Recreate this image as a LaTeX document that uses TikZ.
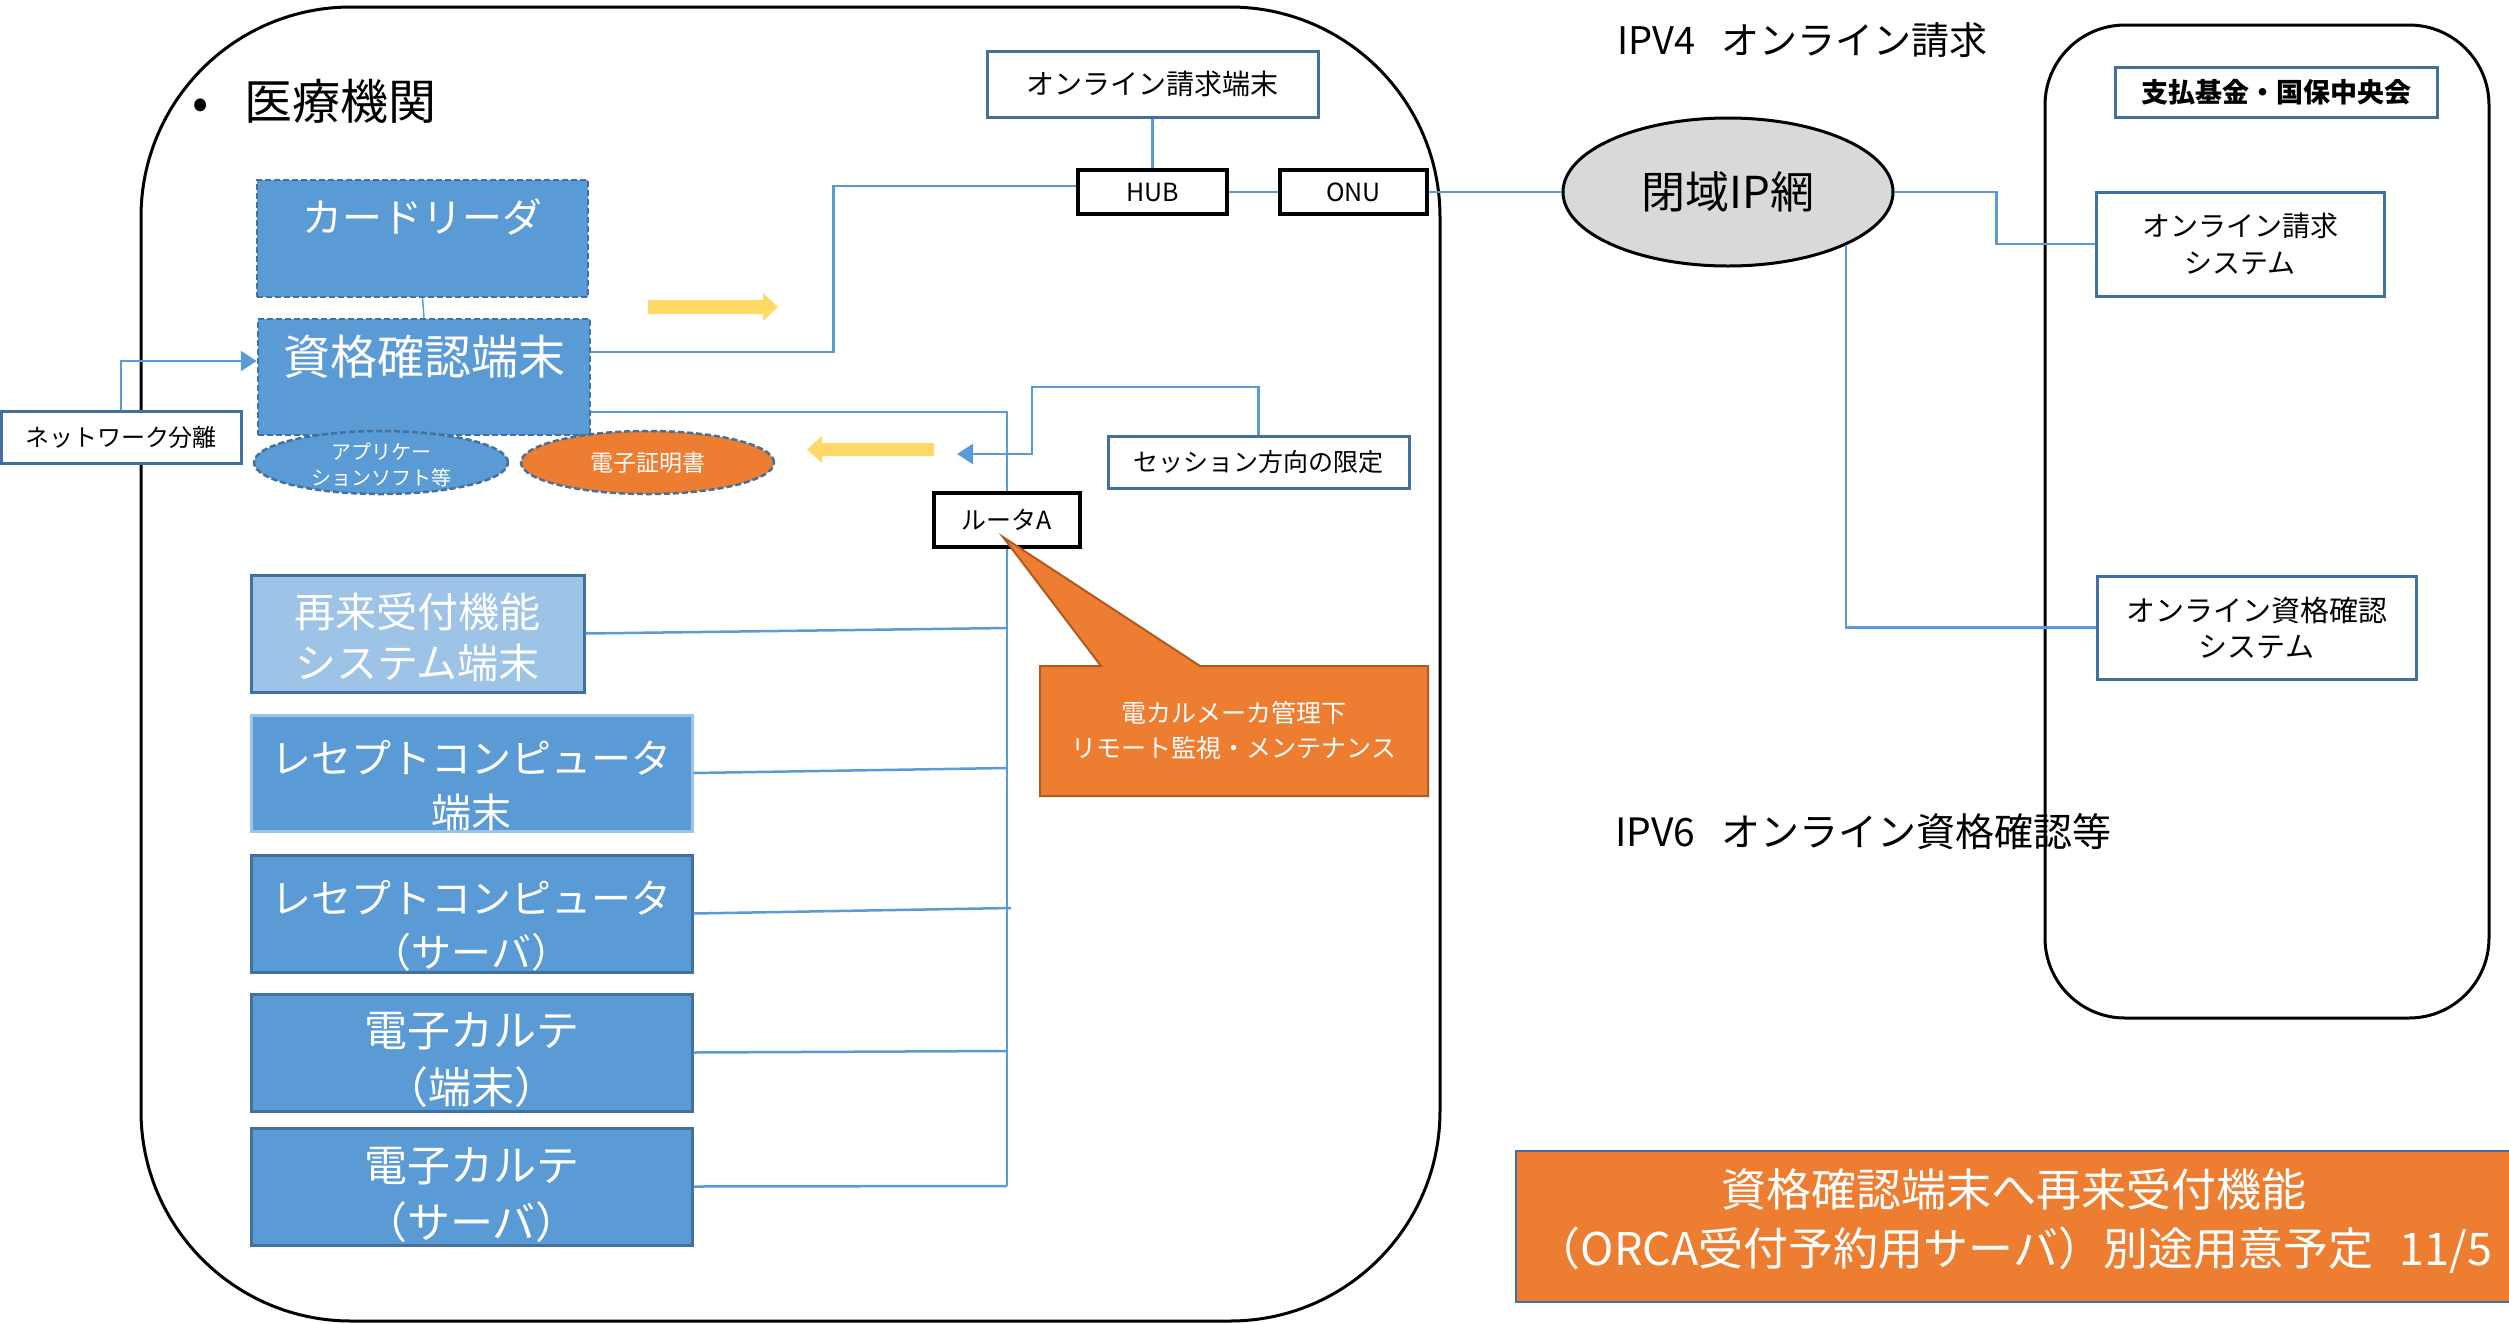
\documentclass[tikz,border=0pt]{standalone}
\usepackage{fontspec}
\setmainfont{Noto Sans CJK JP}
\usetikzlibrary{shapes.geometric,arrows.meta}
\definecolor{boxblue}{HTML}{5B9BD5}
\definecolor{edgeblue}{HTML}{41719C}
\definecolor{lightblue}{HTML}{9DC3E6}
\definecolor{orng}{HTML}{ED7D31}
\definecolor{orngdark}{HTML}{AE5A21}
\definecolor{yel}{HTML}{FFD966}
\definecolor{ipgray}{HTML}{D9D9D9}
\newcommand\fsz[2]{\fontsize{#1}{#2}\selectfont}
\begin{document}
\begin{tikzpicture}[x=1pt,y=-1pt,
  conn/.style={draw=boxblue,line width=2.5pt},
  arr/.style={conn,-{Triangle[length=16pt,width=20pt]}},
  wbox/.style={draw=edgeblue,line width=3pt,fill=white,inner sep=0pt,align=center},
  kbox/.style={draw=black,line width=3.5pt,fill=white,inner sep=0pt,align=center},
  bbox/.style={draw=edgeblue,line width=3pt,fill=boxblue,text=white,inner sep=0pt,align=center},
  dbox/.style={bbox,line width=2.5pt,dash pattern=on 6pt off 3pt},
  lbl/.style={inner sep=0pt,align=center},
  wlbl/.style={lbl,text=white},
  container/.style={draw=black,line width=3pt,inner sep=0pt}
]
\useasboundingbox (0,0) rectangle (2509,1323);

% containers
\node[container,rounded corners=210pt,minimum width=1299pt,minimum height=1314pt] (hosp) at (790.5,664) {};
\node[container,rounded corners=80pt,minimum width=444pt,minimum height=993pt] (fundarea) at (2267,521.5) {};

% titles
\node[lbl,anchor=west,font=\fsz{48}{52}] (hosptitle) at (192,101) {•\hspace{36pt}医療機関};
\node[lbl,anchor=west,font=\fsz{38}{42}] (ipv4) at (1617,40) {IPV4\hspace{26pt}オンライン請求};
\node[lbl,anchor=west,font=\fsz{39}{42}] (ipv6) at (1615,832) {IPV6\hspace{26pt}オンライン資格確認等};

% network side
\node[wbox,minimum width=331pt,minimum height=66pt,font=\fsz{28}{32}] (term) at (1152.5,84) {オンライン請求端末};
\node[kbox,minimum width=149pt,minimum height=44pt,font=\fsz{25}{28}] (hub) at (1152.5,192) {HUB};
\node[kbox,minimum width=147pt,minimum height=44pt,font=\fsz{25}{28}] (onu) at (1353.5,192) {ONU};
\node[ellipse,draw=black,line width=3pt,fill=ipgray,minimum width=330pt,minimum height=148pt,inner sep=0pt,font=\fsz{44}{48}] (ip) at (1728,192) {閉域IP網};
\node[wbox,minimum width=322pt,minimum height=50pt,font=\fsz{27}{30}\bfseries] (fund) at (2276,92) {支払基金・国保中央会};
\node[wbox,minimum width=288pt,minimum height=104pt,font=\fsz{28}{37}] (claim) at (2240,244) {オンライン請求\\システム};
\node[wbox,minimum width=319pt,minimum height=103pt,font=\fsz{29}{36}] (qual) at (2256.5,627.5) {オンライン資格確認\\システム};

% hospital side
\node[dbox,minimum width=331pt,minimum height=117pt] (card) at (422.5,238.5) {};
\node[wlbl,font=\fsz{40}{44}] (cardtxt) at (422.5,217) {カードリーダ};
\node[dbox,minimum width=332pt,minimum height=116pt] (shikaku) at (424,377) {};
\node[wlbl,font=\fsz{47}{50}] (shikakutxt) at (424,357) {資格確認端末};
\node[wbox,minimum width=240pt,minimum height=52pt,font=\fsz{24}{28}] (net) at (121,437) {ネットワーク分離};
\node[ellipse,draw=edgeblue,line width=2.5pt,dash pattern=on 6pt off 3pt,fill=boxblue,text=white,minimum width=254pt,minimum height=63pt,inner sep=0pt] (app) at (381,462.5) {};
\node[wlbl,font=\fsz{20}{26}] (apptxt) at (381,465) {アプリケー\\ションソフト等};
\node[ellipse,draw=edgeblue,line width=2.5pt,dash pattern=on 6pt off 3pt,fill=orng,text=white,minimum width=253pt,minimum height=63pt,inner sep=0pt,font=\fsz{23}{26}] (cert) at (647.5,462.5) {電子証明書};
\node[kbox,minimum width=146pt,minimum height=54pt,font=\fsz{25}{28}] (router) at (1007,520) {ルータA};
\node[wbox,minimum width=301pt,minimum height=52pt,font=\fsz{25}{28}] (sess) at (1258.5,462) {セッション方向の限定};

\node[bbox,fill=lightblue,minimum width=333pt,minimum height=117pt] (sairai) at (417.5,633.5) {};
\node[wlbl,font=\fsz{41}{51}] (sairaitxt) at (417.5,637) {再来受付機能\\システム端末};
\node[bbox,draw=lightblue,minimum width=441pt,minimum height=116pt] (rece1) at (471.5,773) {};
\node[wlbl,font=\fsz{40}{54}] (rece1txt) at (471.5,785) {レセプトコンピュータ\\端末};
\node[bbox,minimum width=441pt,minimum height=117pt] (rece2) at (471.5,913.5) {};
\node[wlbl,font=\fsz{40}{54}] (rece2txt) at (471.5,926) {レセプトコンピュータ\\（サーバ）};
\node[bbox,minimum width=441pt,minimum height=117pt] (kar1) at (471.5,1052.5) {};
\node[wlbl,font=\fsz{43}{57}] (kar1txt) at (471.5,1060) {電子カルテ\\（端末）};
\node[bbox,minimum width=441pt,minimum height=117pt] (kar2) at (471.5,1186.5) {};
\node[wlbl,font=\fsz{43}{57}] (kar2txt) at (471.5,1195) {電子カルテ\\（サーバ）};

% callout
\filldraw[fill=orng,draw=orngdark,line width=2pt] (1040,666) -- (1101,666) -- (1003,537) -- (1200,666) -- (1428,666) -- (1428,796) -- (1040,796) -- cycle;
\node[wlbl,font=\fsz{25}{35}] (callout) at (1234,730) {電カルメーカ管理下\\リモート監視・メンテナンス};

% bottom note
\node[draw=edgeblue,line width=2pt,fill=orng,text=white,minimum width=997pt,minimum height=151pt,inner sep=0pt] (note) at (2014.5,1226) {};
\node[wlbl,font=\fsz{45}{59}] (notetxt) at (2014,1221) {資格確認端末へ再来受付機能\\（ORCA受付予約用サーバ）別途用意予定\hspace{26pt}11/5};

% yellow arrows
\fill[yel] (648,300) -- (763,300) -- (763,293) -- (778,307) -- (763,321) -- (763,314) -- (648,314) -- cycle;
\fill[yel] (934,443) -- (822,443) -- (822,436) -- (807,449.5) -- (822,463) -- (822,456) -- (934,456) -- cycle;

% connectors
\draw[conn] (term.south) -- (hub.north);
\draw[conn] (hub.east) -- (onu.west);
\draw[conn] (onu.east) -- (ip.west);
\draw[conn] (ip.east) -- ++(102,0) |- (claim.west);
\draw[conn] (ip.south east) |- (qual.west);
\draw[conn,line width=1.5pt] (card.south) -- (shikaku.north);
\draw[conn] ([yshift=25pt]shikaku.east) -- ++(242,0) |- ([yshift=6pt]hub.west);
\draw[conn] ([yshift=-35pt]shikaku.east) -| (router.north);
\draw[arr] (net.north) |- ([yshift=16pt]shikaku.west);
\coordinate (sesstip) at (957,454);
\draw[arr] (sess.north) |- (1032,387) -- (1032,454) -- (sesstip);
\coordinate (busend) at (1007,1186);
\draw[conn] (router.south) -- (busend);
\coordinate (b1) at (1008,628);
\coordinate (b2) at (1007,768);
\coordinate (b3) at (1011,908);
\coordinate (b4) at (1007,1051);
\draw[conn] (sairai.east) -- (b1);
\draw[conn] (rece1.east) -- (b2);
\draw[conn] (rece2.east) -- (b3);
\draw[conn] (kar1.east) -- (b4);
\draw[conn] (kar2.east) -- (busend);
\end{tikzpicture}
\end{document}
